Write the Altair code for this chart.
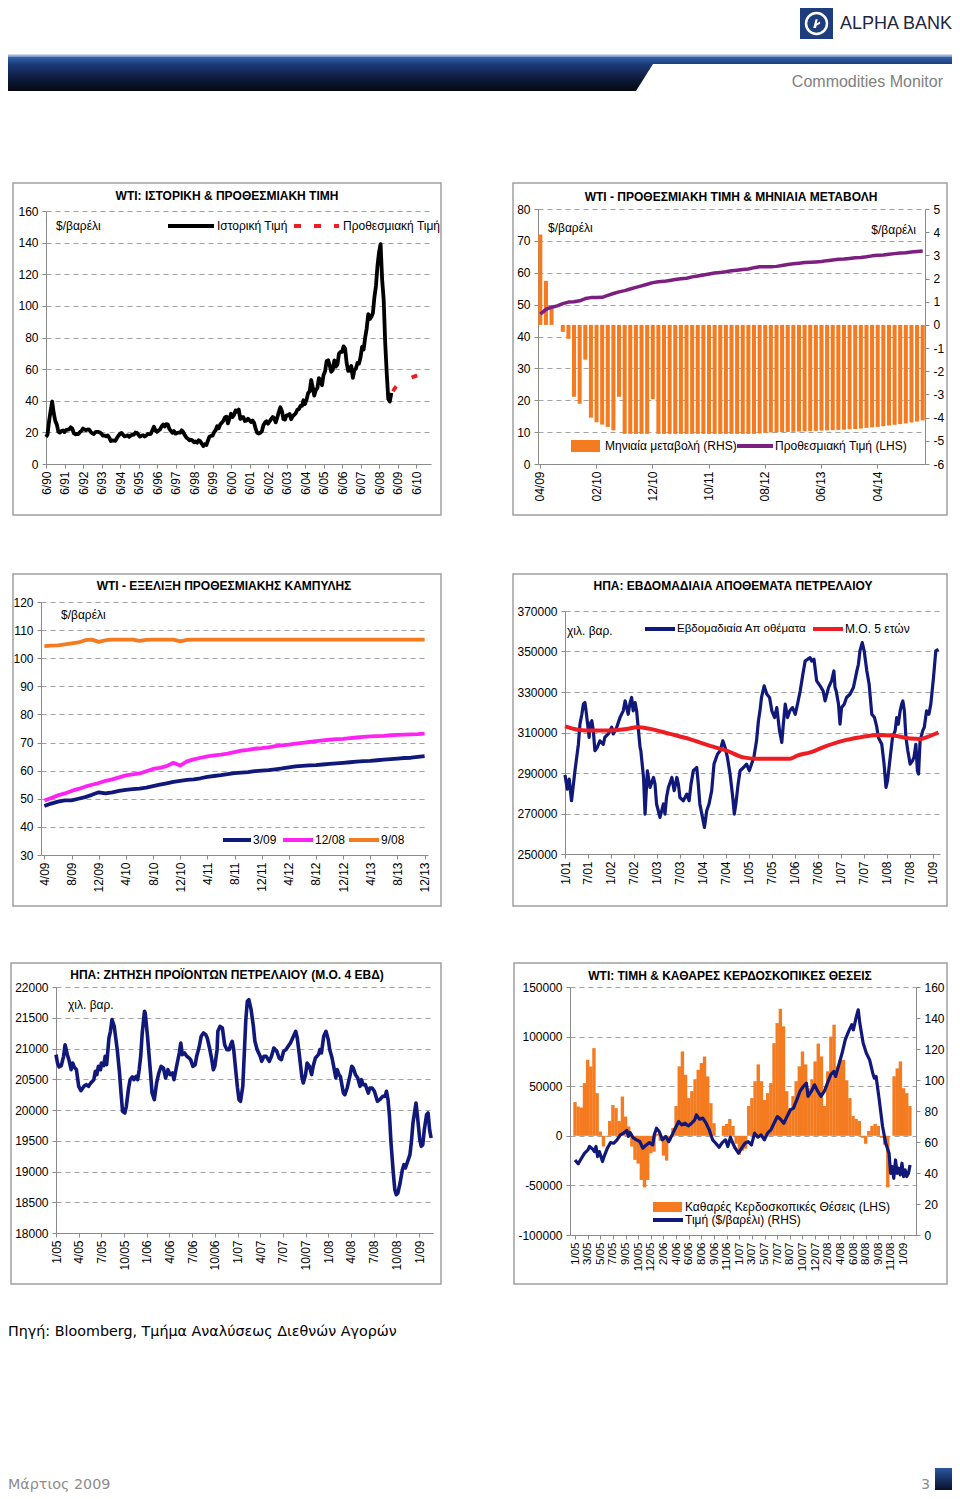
import json
import altair as alt
import pandas as pd

FONT = "Liberation Sans, Arial, sans-serif"
SFONT = "DejaVu Sans, Verdana, sans-serif"

NAVY = "#10187A"
RED = "#EE1D23"
ORANGE = "#F47B20"
PURPLE = "#7B1F80"
MAGENTA = "#FF22F4"
BLACK = "#000000"
BORDER = "#A0A0A0"
GRID = "#A3A3A3"
AXISC = "#8A8A8A"
MINUS = "\u2212"

# ---------------- data: panel 1 (WTI history + forward) ----------------
P1_TICKS = ["6/90", "6/91", "6/92", "6/93", "6/94", "6/95", "6/96", "6/97", "6/98", "6/99",
            "6/00", "6/01", "6/02", "6/03", "6/04", "6/05", "6/06", "6/07", "6/08", "6/09", "6/10"]
# monthly, starting 6/1990
P1_HIST = [
    17.1, 18.6, 27.2, 33.7, 39.5, 32.3, 27.3,
    25.0, 20.5, 19.9, 20.8, 21.2, 20.2, 21.4, 21.7, 21.9, 23.2, 22.5, 19.5,
    18.8, 19.0, 18.9, 20.2, 20.9, 22.4, 21.8, 21.4, 21.9, 21.7, 20.3, 19.4,
    19.0, 20.1, 20.3, 20.3, 19.9, 19.1, 17.9, 18.0, 17.5, 18.1, 16.7, 14.5,
    15.0, 14.8, 14.7, 16.4, 17.9, 19.1, 19.6, 18.4, 17.5, 17.7, 18.1, 17.2,
    18.0, 18.5, 18.6, 19.9, 19.7, 18.4, 17.3, 17.9, 18.2, 17.4, 18.0, 19.0,
    18.9, 19.1, 21.3, 23.5, 21.2, 20.4, 21.3, 21.9, 23.9, 24.9, 23.7, 25.2,
    25.1, 22.2, 20.9, 19.7, 20.8, 19.2, 19.6, 19.9, 19.8, 21.3, 20.2, 18.3,
    16.7, 16.1, 15.0, 15.4, 14.9, 13.7, 14.2, 13.5, 15.0, 14.4, 12.9, 11.3,
    12.5, 12.0, 14.7, 17.3, 17.8, 17.9, 20.1, 21.3, 23.9, 22.6, 25.0, 26.1,
    27.2, 29.4, 29.9, 25.7, 28.8, 31.8, 29.7, 31.2, 33.9, 33.1, 34.4, 28.5,
    29.6, 29.6, 27.2, 27.4, 28.6, 27.6, 26.5, 27.5, 25.9, 22.2, 19.7, 19.3,
    19.7, 20.7, 24.5, 26.2, 27.0, 25.5, 26.9, 28.4, 29.7, 28.9, 26.3, 29.4,
    32.9, 35.9, 33.6, 28.3, 28.1, 30.7, 30.8, 31.6, 28.3, 30.3, 31.1, 32.1,
    34.3, 34.7, 36.7, 36.7, 40.3, 38.0, 40.7, 44.9, 45.9, 53.1, 48.5, 43.3,
    46.8, 48.0, 54.3, 53.0, 49.8, 56.3, 58.7, 65.0, 65.6, 62.4, 58.3, 59.4,
    65.5, 61.6, 62.9, 69.7, 70.9, 70.9, 74.4, 73.0, 63.8, 58.9, 59.1, 62.0,
    54.5, 59.3, 60.4, 63.9, 63.5, 67.5, 74.1, 72.4, 79.9, 85.8, 94.8, 91.7,
    93.0, 95.4, 105.5, 112.6, 125.4, 133.9, 139.0, 116.7, 104.1, 76.6, 57.3, 41.1,
    39.5, 45.0]
P1_FWD_START = 225  # 3/2009
P1_FWD = [46.0, 47.5, 49.0, 50.3, 51.2, 51.8, 52.3, 52.8, 53.2, 53.6, 54.0,
          54.3, 54.6, 55.0, 55.4, 55.7, 56.0, 56.2, 56.4, 56.6, 56.8, 57.0]

# ---------------- data: panel 2 (forward price & monthly change) ----------------
P2_MONTHS = [f"{(3 + i) % 12 + 1:02d}/{((2009 * 12 + 3 + i) // 12) % 100:02d}" for i in range(69)]
P2_CHANGE = [3.9, 1.9, 0.8, 0.0, -0.3, -0.6, -3.1, -3.4, -1.5, -4.0,
             -4.2, -4.3, -4.4, -4.55, -3.1, -4.7, -4.7, -4.7, -4.7, -4.7,
             -3.2, -4.7, -4.7, -4.7, -4.7, -4.7, -4.7, -4.7, -4.7, -4.7,
             -4.7, -4.7, -4.7, -4.7, -4.7, -4.7, -4.7, -4.7, -4.7, -4.68,
             -4.65, -4.64, -4.63, -4.62, -4.62, -4.61, -4.6, -4.59, -4.58, -4.57,
             -4.56, -4.55, -4.54, -4.53, -4.52, -4.5, -4.49, -4.47, -4.44, -4.42,
             -4.4, -4.37, -4.34, -4.31, -4.28, -4.25, -4.21, -4.17, -4.12]
P2_FWD = [47.0, 48.5, 49.2, 49.6, 50.3, 50.8, 50.9, 51.2, 51.9, 52.2,
          52.2, 52.3, 52.9, 53.5, 54.0, 54.4, 54.9, 55.4, 55.9, 56.4,
          56.9, 57.2, 57.3, 57.6, 57.9, 58.1, 58.3, 58.7, 59.0, 59.3,
          59.6, 59.9, 60.1, 60.3, 60.6, 60.8, 61.0, 61.2, 61.6, 61.9,
          61.9, 61.9, 62.0, 62.3, 62.6, 62.8, 63.0, 63.2, 63.3, 63.4,
          63.5, 63.8, 64.0, 64.2, 64.3, 64.5, 64.7, 64.8, 65.0, 65.3,
          65.5, 65.6, 65.8, 66.0, 66.2, 66.3, 66.5, 66.7, 66.8]

# ---------------- data: panel 3 (forward curves) ----------------
P3_MONTHS = [f"{(3 + i) % 12 + 1}/{((2009 * 12 + 3 + i) // 12) % 100:02d}" for i in range(57)]
P3_MAR09 = [47.4, 48.3, 49.0, 49.4, 49.4, 50.0, 50.6, 51.4, 52.3, 51.9,
            52.3, 52.8, 53.2, 53.4, 53.6, 54.0, 54.5, 55.0, 55.5, 56.0,
            56.4, 56.7, 56.9, 57.3, 57.8, 58.1, 58.4, 58.8, 59.1, 59.3,
            59.5, 59.8, 60.0, 60.2, 60.5, 60.8, 61.2, 61.5, 61.7, 61.9,
            62.0, 62.2, 62.4, 62.6, 62.8, 63.0, 63.2, 63.4, 63.5, 63.7,
            63.9, 64.1, 64.3, 64.5, 64.6, 64.9, 65.2]
P3_DEC08 = [49.4, 50.3, 51.2, 51.9, 52.8, 53.5, 54.3, 55.0, 55.6, 56.4,
            56.9, 57.6, 58.3, 58.7, 59.0, 59.8, 60.6, 61.0, 61.6, 62.8,
            61.8, 63.3, 64.0, 64.6, 65.1, 65.4, 65.7, 66.1, 66.6, 67.1,
            67.4, 67.8, 68.0, 68.3, 68.7, 69.0, 69.3, 69.6, 69.9, 70.2,
            70.5, 70.8, 71.0, 71.2, 71.3, 71.6, 71.8, 72.0, 72.2, 72.3,
            72.4, 72.6, 72.7, 72.8, 72.9, 73.0, 73.2]
P3_SEP08 = [104.3, 104.5, 104.6, 104.9, 105.3, 105.6, 106.4, 106.6, 105.8, 106.4,
            106.6, 106.6, 106.6, 106.6, 106.2, 106.5, 106.6, 106.6, 106.6, 106.6,
            106.0, 106.5, 106.6, 106.6, 106.6, 106.6, 106.6, 106.6, 106.6, 106.6,
            106.6, 106.6, 106.6, 106.6, 106.6, 106.6, 106.6, 106.6, 106.6, 106.6,
            106.6, 106.6, 106.6, 106.6, 106.6, 106.6, 106.6, 106.6, 106.6, 106.6,
            106.6, 106.6, 106.6, 106.6, 106.6, 106.6, 106.6]
P3_SERIES = ["3/09", "12/08", "9/08"]

# ---------------- data: panel 4 (US weekly crude stocks) ----------------
P4_TICKS = ["1/01", "7/01", "1/02", "7/02", "1/03", "7/03", "1/04", "7/04", "1/05",
            "7/05", "1/06", "7/06", "1/07", "7/07", "1/08", "7/08", "1/09"]
# (months since 1/2001, thousand barrels)
P4_STOCKS = [(0.0, 289000), (0.6, 282000), (1.1, 287000), (1.7, 276300), (2.2, 284500), (2.6, 291100),
             (3.5, 304200), (3.9, 314100), (4.4, 319000), (4.8, 324000), (5.2, 324800), (5.5, 320700),
             (5.8, 315800), (6.3, 307600), (6.5, 314100), (7.0, 315800), (7.4, 310900), (7.8, 301000),
             (8.4, 302600), (9.1, 305900), (10.0, 304200), (10.4, 307600), (11.3, 309300), (12.2, 312600),
             (12.6, 309300), (13.5, 312600), (14.4, 317600), (15.2, 320700), (15.7, 325600), (16.1, 322300),
             (16.5, 319000), (17.0, 324800), (17.4, 327300), (17.8, 320700), (18.3, 324800), (18.7, 320700),
             (19.1, 312600), (19.6, 302600), (19.8, 301000), (20.5, 287800), (20.9, 269700), (21.5, 291100),
             (22.2, 282900), (23.1, 287800), (23.5, 284500), (23.9, 274700), (24.8, 268100), (25.7, 274700),
             (26.1, 269700), (26.5, 277900), (27.0, 282900), (27.9, 287800), (28.5, 281300), (29.2, 287800),
             (29.6, 284500), (30.0, 277900), (30.9, 276300), (31.8, 279600), (32.4, 276300), (32.9, 284500),
             (33.5, 291100), (34.4, 292700), (34.8, 284500), (35.2, 274700), (35.9, 268100), (36.4, 263100),
             (37.0, 271400), (37.6, 274700), (38.3, 281300), (38.9, 294400), (39.8, 299300), (40.5, 301000),
             (41.2, 305900), (41.8, 302600), (42.4, 297700), (43.1, 289400), (43.8, 277900), (44.2, 269700),
             (44.6, 274700), (45.2, 284500), (45.7, 291100), (46.6, 292700), (47.4, 294400), (48.1, 291100),
             (48.7, 294400), (49.3, 297700), (50.0, 305900), (50.5, 315800), (50.9, 320700), (51.3, 327300),
             (52.0, 333000), (52.7, 328900), (53.4, 327300), (54.0, 320700), (54.7, 317400), (55.3, 322300),
             (56.0, 310900), (56.6, 305100), (57.0, 314100), (57.5, 324000), (58.1, 317400), (58.7, 320700),
             (59.4, 322300), (60.1, 319000), (60.7, 324000), (61.4, 330500), (62.1, 338800), (62.7, 345300),
             (63.4, 346200), (64.0, 347000), (64.4, 345300), (65.0, 346200), (65.7, 335500), (66.6, 333000),
             (67.4, 330500), (67.9, 325600), (68.8, 332200), (69.6, 335500), (70.2, 340400), (70.5, 332200),
             (70.8, 330500), (71.4, 324000), (71.8, 314100), (72.2, 322300), (72.9, 324000), (73.5, 327300),
             (74.4, 328900), (75.3, 332200), (76.2, 340400), (76.6, 343700), (77.0, 350300), (77.6, 354400),
             (78.1, 350300), (78.8, 340400), (79.4, 333800), (80.1, 319000), (80.8, 317400), (81.4, 312600),
             (81.8, 307600), (82.7, 304200), (83.3, 294400), (83.8, 282900), (84.2, 286200), (84.9, 297700),
             (85.5, 307600), (86.2, 310900), (86.6, 317400), (87.0, 314100), (87.5, 320700), (87.9, 324000),
             (88.2, 325600), (88.6, 320700), (89.0, 307600), (89.5, 301000), (90.1, 294400), (90.7, 296000),
             (91.1, 297700), (91.6, 304200), (92.0, 291100), (92.3, 289500), (92.7, 305900), (93.4, 310900),
             (93.8, 312600), (94.4, 320700), (95.0, 319000), (95.5, 324000), (96.2, 337100), (96.8, 350300),
             (97.5, 351100)]
P4_AVG5 = [(0.0, 313000), (3.0, 311500), (5.7, 311000), (11.7, 311000), (16.1, 311700), (18.7, 312600),
           (22.2, 311800), (27.4, 309300), (32.6, 306700), (37.9, 303400), (42.2, 301000), (46.6, 297700),
           (50.0, 297000), (58.7, 297000), (60.5, 298500), (64.0, 300200), (68.3, 303400), (72.7, 306000),
           (77.0, 307600), (81.4, 308800), (85.7, 308500), (90.1, 307000), (92.7, 306800), (95.3, 308300),
           (97.5, 310000)]

# ---------------- data: panel 5 (US product demand, 4wk avg) ----------------
P5_TICKS = ["1/05", "4/05", "7/05", "10/05", "1/06", "4/06", "7/06", "10/06", "1/07",
            "4/07", "7/07", "10/07", "1/08", "4/08", "7/08", "10/08", "1/09"]
# (months since 1/2005, thousand barrels/day)
P5_DEMAND = [(0.0, 20900), (0.2, 20764), (0.4, 20700), (0.7, 20721), (1.0, 20873), (1.2, 21062),
             (1.5, 20900), (1.7, 20818), (2.0, 20656), (2.2, 20764), (2.4, 20700), (2.7, 20656),
             (3.0, 20385), (3.3, 20314), (3.7, 20385), (4.0, 20412), (4.3, 20385), (4.6, 20439),
             (5.0, 20493), (5.2, 20629), (5.4, 20575), (5.6, 20710), (5.9, 20656), (6.0, 20764),
             (6.3, 20721), (6.5, 20873), (6.7, 20737), (7.0, 21171), (7.2, 21279), (7.4, 21469),
             (7.7, 21360), (8.1, 20981), (8.4, 20602), (8.6, 20276), (8.8, 19978), (9.1, 19951),
             (9.3, 20060), (9.6, 20358), (9.8, 20493), (10.1, 20537), (10.3, 20493), (10.6, 20547),
             (10.8, 20493), (11.0, 20656), (11.2, 20873), (11.4, 21252), (11.7, 21604), (11.8, 21577),
             (12.1, 21198), (12.5, 20602), (12.7, 20276), (13.0, 20168), (13.3, 20439), (13.6, 20602),
             (13.9, 20710), (14.2, 20683), (14.5, 20520), (14.8, 20656), (15.1, 20575), (15.4, 20602),
             (15.6, 20493), (15.9, 20683), (16.3, 20927), (16.5, 21089), (16.7, 20900), (17.0, 20927),
             (17.3, 20873), (17.6, 20846), (17.8, 20818), (18.1, 20710), (18.4, 20737), (18.6, 20873),
             (18.9, 21008), (19.2, 21198), (19.5, 21252), (19.8, 21225), (20.0, 21171), (20.3, 21008),
             (20.6, 20818), (20.8, 20656), (21.0, 20710), (21.3, 20981), (21.4, 21279), (21.7, 21360),
             (22.0, 21333), (22.3, 21062), (22.6, 20981), (22.9, 20981), (23.1, 21062), (23.3, 21117),
             (23.5, 20981), (23.8, 20602), (24.0, 20358), (24.2, 20168), (24.4, 20141), (24.7, 20385),
             (24.9, 20927), (25.1, 21469), (25.3, 21767), (25.5, 21794), (25.8, 21631), (26.1, 21360),
             (26.3, 21117), (26.6, 20981), (27.0, 20873), (27.2, 20791), (27.5, 20873), (27.8, 20873),
             (28.2, 20791), (28.5, 20873), (28.8, 21008), (29.2, 20954), (29.5, 20846), (29.8, 20818),
             (30.1, 20954), (30.4, 20981), (30.7, 21035), (31.0, 21089), (31.4, 21198), (31.7, 21279),
             (31.9, 21171), (32.2, 20873), (32.5, 20547), (32.7, 20439), (33.0, 20575), (33.2, 20764),
             (33.5, 20710), (33.8, 20575), (34.0, 20710), (34.3, 20846), (34.7, 20900), (34.9, 20981),
             (35.1, 20927), (35.4, 21198), (35.7, 21279), (36.0, 21144), (36.2, 20981), (36.5, 20846),
             (36.8, 20656), (37.0, 20520), (37.2, 20656), (37.4, 20575), (37.6, 20547), (38.0, 20276),
             (38.2, 20249), (38.5, 20358), (38.9, 20575), (39.1, 20710), (39.3, 20683), (39.6, 20575),
             (39.9, 20520), (40.2, 20385), (40.4, 20493), (40.6, 20412), (40.9, 20412), (41.3, 20276),
             (41.5, 20358), (41.8, 20358), (42.1, 20304), (42.5, 20141), (42.8, 20168), (43.2, 20222),
             (43.5, 20222), (43.7, 20304), (43.9, 20168), (44.1, 19897), (44.3, 19463), (44.6, 18976),
             (44.8, 18705), (45.0, 18623), (45.2, 18650), (45.5, 18813), (45.8, 19030), (46.0, 19111),
             (46.2, 19057), (46.5, 19165), (46.8, 19274), (47.0, 19491), (47.2, 19789), (47.4, 19951),
             (47.6, 20114), (47.8, 19897), (48.1, 19518), (48.3, 19409), (48.5, 19436), (48.7, 19680),
             (49.0, 19924), (49.2, 19951), (49.4, 19680), (49.6, 19545)]

# ---------------- data: panel 6 (WTI price & net speculative positions) ----------------
P6_TICKS = ["1/05", "3/05", "5/05", "7/05", "9/05", "10/05", "12/05", "2/06", "4/06", "6/06",
            "8/06", "9/06", "11/06", "1/07", "3/07", "5/07", "7/07", "8/07", "10/07", "12/07",
            "2/08", "4/08", "6/08", "8/08", "9/08", "11/08", "1/09"]
# net speculative positions, every 2 weeks from 1/2005
P6_NETPOS = [34000, 29500, 28500, 53100, 76600, 69900, 88400, 43000, 4300, -10800,
             -700, 15000, 31000, 27900, 15000, 39600, 19400, 9400, -10800, -24300,
             -28000, -44500, -52000, -44500, -17600, -16000, 2000, -5000, -20000, -25000,
             -5000, 8000, 30000, 70000, 85000, 61500, 38000, 45000, 57000, 66500,
             73300, 79900, 59800, 32900, 12700, 0, 0, 10000, 12000, 17000,
             10000, -8000, -19000, -15000, -13000, 30000, 38000, 55000, 72000, 55000,
             36000, 43000, 53100, 93400, 113600, 128000, 110300, 45000, 28000, 40000,
             55000, 70000, 85000, 72000, 48000, 57000, 75000, 93000, 80000, 30000,
             65000, 100000, 112000, 69900, 76600, 76600, 56000, 38000, 20000, 17000,
             15000, -2000, -8000, 5000, 10000, 12000, 10000, -2000, -9000, -52000,
             0, 60000, 68000, 75000, 48000, 43000, 30000]
# (weeks since 1/2005, $/barrel)
P6_PRICE = [(0.0, 48.4), (2.0, 45.9), (4.1, 49.5), (6.1, 52.8), (8.2, 54.9), (9.2, 57.1), (11.3, 55.3),
            (12.3, 53.8), (13.3, 57.1), (14.3, 50.6), (15.4, 53.8), (16.4, 50.6), (17.4, 47.4), (18.4, 50.6),
            (20.5, 56.0), (22.5, 59.6), (24.6, 59.2), (26.6, 61.4), (28.7, 64.6), (30.7, 65.7), (32.8, 67.4),
            (33.8, 63.6), (34.8, 66.2), (36.9, 62.6), (38.9, 61.4), (41.0, 60.3), (43.0, 56.0), (45.1, 58.1),
            (47.1, 59.6), (49.2, 58.1), (50.2, 64.6), (51.6, 68.9), (53.3, 66.8), (55.3, 61.4), (57.4, 63.6),
            (59.4, 60.3), (61.5, 64.6), (63.5, 68.9), (65.6, 73.2), (67.6, 71.1), (69.7, 72.1), (71.7, 70.4),
            (73.8, 72.1), (75.8, 74.3), (76.8, 77.5), (78.9, 74.7), (80.9, 75.4), (83.0, 72.1), (85.0, 67.8),
            (87.1, 61.4), (89.1, 59.2), (91.2, 56.6), (93.2, 59.6), (95.3, 61.4), (96.7, 57.1), (98.4, 63.1),
            (99.4, 60.3), (101.4, 56.0), (103.5, 52.8), (105.5, 56.0), (107.6, 59.2), (109.6, 60.3),
            (111.7, 58.1), (113.7, 65.7), (115.8, 63.1), (117.8, 64.6), (119.9, 61.4), (121.9, 65.7),
            (124.0, 67.8), (126.0, 72.1), (128.1, 76.4), (130.1, 74.7), (132.2, 72.1), (134.2, 76.4),
            (136.3, 80.7), (138.3, 81.8), (140.4, 87.2), (142.4, 92.6), (144.5, 95.8), (146.5, 98.0),
            (147.5, 89.4), (149.6, 92.6), (151.6, 96.9), (153.7, 92.6), (155.7, 89.4), (157.8, 92.6),
            (159.8, 98.0), (161.9, 103.4), (163.9, 105.5), (165.0, 102.3), (167.0, 109.8), (169.1, 117.4),
            (171.1, 126.0), (173.2, 131.4), (175.2, 135.7), (176.2, 132.4), (177.9, 140.0), (179.3, 145.3),
            (180.3, 136.7), (182.4, 123.8), (184.4, 117.4), (186.5, 113.0), (188.5, 104.4), (189.5, 101.2),
            (190.6, 102.3), (192.6, 87.2), (194.7, 70.0), (196.7, 59.2), (198.8, 52.8), (199.8, 39.8),
            (200.8, 44.1), (201.8, 36.6), (202.9, 48.4), (203.9, 39.8), (204.9, 43.1), (205.9, 38.8),
            (207.0, 46.3), (208.0, 37.7), (209.0, 42.0), (210.0, 37.7), (211.1, 39.8), (212.1, 45.2)]

# ---------------- helpers ----------------
one = pd.DataFrame({"a": [0]})
TXT = 12


def text(s, x, y, size=TXT, align="left", weight="normal", color="black", font=FONT):
    return alt.Chart(one).mark_text(text=s, align=align, baseline="middle", fontSize=size,
                                    fontWeight=weight, color=color, font=font).encode(
        x=alt.value(x), y=alt.value(y))


def title(s, x, y):
    return text(s, x, y, size=12, align="center", weight="bold")


def rule(x1, x2, y, color, width, dash=None):
    kw = dict(color=color, strokeWidth=width, strokeCap="butt")
    if dash is not None:
        kw["strokeDash"] = dash
    return alt.Chart(one).mark_rule(**kw).encode(x=alt.value(x1), x2=alt.value(x2), y=alt.value(y))


def rect(x1, x2, y1, y2, **kw):
    return alt.Chart(one).mark_rect(**kw).encode(
        x=alt.value(x1), x2=alt.value(x2), y=alt.value(y1), y2=alt.value(y2))


def frame(x1, x2, y1, y2):
    return rect(x1, x2, y1, y2, fillOpacity=0, stroke=BORDER, strokeWidth=1.5)


def lexpr(labels, step):
    return json.dumps(labels) + "[round(datum.value/%s)]" % step


def ax_x(values, expr=None, size=12):
    args = dict(values=values, title=None, labelAngle=-90, grid=False, labelFlush=False,
                labelOverlap=False, tickSize=4, labelPadding=3, labelFontSize=size)
    if expr:
        args["labelExpr"] = expr
    return alt.Axis(**args)


def ax_y(values, orient="left", grid=True, fmt=None):
    args = dict(values=values, title=None, grid=grid, orient=orient, tickSize=4, labelPadding=4,
                labelExpr="replace(datum.label, '%s', '-')" % MINUS)
    if fmt:
        args["format"] = fmt
    return alt.Axis(**args)


def spacer(w, h):
    return alt.Chart(one).mark_rect(opacity=0).encode(
        x=alt.value(0), x2=alt.value(w), y=alt.value(0), y2=alt.value(h)).properties(width=w, height=h)


def wrap(panel, top):
    return alt.vconcat(spacer(1, top), panel, spacing=0)


def row(left, pl, mid, pr, top):
    return alt.hconcat(spacer(left, 1), wrap(pl, top), spacer(mid, 1), wrap(pr, top), spacing=0)


# ---------------- panel 1 ----------------
d1h = pd.DataFrame({"k": list(range(len(P1_HIST))), "v": P1_HIST})
d1f = pd.DataFrame({"k": list(range(P1_FWD_START, P1_FWD_START + len(P1_FWD))), "v": P1_FWD})
X1 = alt.X("k:Q", scale=alt.Scale(domain=[0, 249.7], nice=False, zero=False),
           axis=ax_x(list(range(0, 241, 12)), lexpr(P1_TICKS, 12)))
Y1 = alt.Y("v:Q", scale=alt.Scale(domain=[0, 160], nice=False), axis=ax_y(list(range(0, 161, 20))))
p1 = alt.layer(
    frame(-33, 395, -28, 304),
    alt.Chart(d1h).mark_line(color=BLACK, strokeWidth=3.8, strokeJoin="round").encode(x=X1, y=Y1),
    alt.Chart(d1f).mark_line(color=RED, strokeWidth=3.8, strokeDash=[6, 18]).encode(x=X1, y=Y1),
    title("WTI: ΙΣΤΟΡΙΚΗ & ΠΡΟΘΕΣΜΙΑΚΗ ΤΙΜΗ", 181, -15),
    text("$/βαρέλι", 10, 15),
    rule(122, 168, 15, BLACK, 4),
    text("Ιστορική Τιμή", 171, 15),
    rule(248, 293, 15, RED, 4, dash=[7, 13]),
    text("Προθεσμιακή Τιμή", 297, 15),
).properties(width=385, height=253)

# ---------------- panel 2 ----------------
d2 = pd.DataFrame({"m": P2_MONTHS, "chg": P2_CHANGE, "fwd": P2_FWD})
X2 = alt.X("m:O", sort=None, scale=alt.Scale(paddingInner=0.28, paddingOuter=0.05),
           axis=ax_x([P2_MONTHS[i] for i in range(0, 69, 10)]))
p2 = alt.layer(
    frame(-25, 409, -26, 306),
    alt.Chart(d2).mark_bar(color=ORANGE).encode(
        x=X2, y=alt.Y("chg:Q", scale=alt.Scale(domain=[-6, 5], nice=False),
                      axis=ax_y(list(range(-6, 6)), orient="right", grid=False))),
    alt.Chart(d2).mark_line(color=PURPLE, strokeWidth=3.5, strokeJoin="round").encode(
        x=X2, y=alt.Y("fwd:Q", scale=alt.Scale(domain=[0, 80], nice=False),
                      axis=ax_y(list(range(0, 81, 10))))),
    title("WTI - ΠΡΟΘΕΣΜΙΑΚΗ ΤΙΜΗ & ΜΗΝΙΑΙΑ ΜΕΤΑΒΟΛΗ", 193, -12),
    text("$/βαρέλι", 10, 19),
    text("$/βαρέλι", 378, 21, align="right"),
    rect(33, 62, 231, 243, color=ORANGE),
    text("Μηνιαία μεταβολή (RHS)", 67, 237),
    rule(199, 235, 237, PURPLE, 4),
    text("Προθεσμιακή Τιμή (LHS)", 237, 237),
).resolve_scale(y="independent").properties(width=387, height=255)

# ---------------- panel 3 ----------------
rows3 = []
for name, vals in zip(P3_SERIES, [P3_MAR09, P3_DEC08, P3_SEP08]):
    for m, v in zip(P3_MONTHS, vals):
        rows3.append({"m": m, "v": v, "s": name})
d3 = pd.DataFrame(rows3)
X3 = alt.X("m:O", sort=None, scale=alt.Scale(type="point", padding=0.5),
           axis=ax_x([P3_MONTHS[i] for i in range(0, 57, 4)]))
p3 = alt.layer(
    frame(-28, 400, -28, 304),
    alt.Chart(d3).mark_line(strokeWidth=3.8, strokeJoin="round").encode(
        x=X3,
        y=alt.Y("v:Q", scale=alt.Scale(domain=[30, 120], nice=False, zero=False),
                axis=ax_y(list(range(30, 121, 10)))),
        color=alt.Color("s:N", scale=alt.Scale(domain=P3_SERIES, range=[NAVY, MAGENTA, ORANGE]), legend=None)),
    title("WTI - ΕΞΕΛΙΞΗ ΠΡΟΘΕΣΜΙΑΚΗΣ ΚΑΜΠΥΛΗΣ", 183, -16),
    text("$/βαρέλι", 20, 13),
    rule(182, 210, 238, NAVY, 4),
    text("3/09", 212, 238),
    rule(242, 272, 238, MAGENTA, 4),
    text("12/08", 274, 238),
    rule(308, 338, 238, ORANGE, 4),
    text("9/08", 340, 238),
).properties(width=387, height=253)

# ---------------- panel 4 ----------------
d4 = pd.DataFrame(P4_STOCKS, columns=["t", "v"])
d4a = pd.DataFrame(P4_AVG5, columns=["t", "v"])
X4 = alt.X("t:Q", scale=alt.Scale(domain=[0, 97.9], nice=False, zero=False),
           axis=ax_x(list(range(0, 97, 6)), lexpr(P4_TICKS, 6)))
Y4 = alt.Y("v:Q", scale=alt.Scale(domain=[250000, 370000], nice=False, zero=False),
           axis=ax_y(list(range(250000, 370001, 20000)), fmt="d"))
p4 = alt.layer(
    frame(-52, 382, -37, 295),
    alt.Chart(d4).mark_line(color=NAVY, strokeWidth=3.2, strokeJoin="round").encode(x=X4, y=Y4),
    alt.Chart(d4a).mark_line(color=RED, strokeWidth=4, interpolate="monotone").encode(x=X4, y=Y4),
    title("ΗΠΑ: ΕΒΔΟΜΑΔΙΑΙΑ  ΑΠΟΘΕΜΑΤΑ ΠΕΤΡΕΛΑΙΟΥ", 168, -25),
    text("χιλ. βαρ.", 2, 20),
    rule(80, 110, 18, NAVY, 4),
    text("Εβδομαδιαία Απ οθέματα", 112, 18, size=11.5),
    rule(248, 278, 18, RED, 4),
    text("Μ.Ο. 5 ετών", 280, 18),
).properties(width=375, height=243)

# ---------------- panel 5 ----------------
d5 = pd.DataFrame(P5_DEMAND, columns=["t", "v"])
p5 = alt.layer(
    frame(-45, 385, -24, 297),
    alt.Chart(d5).mark_line(color=NAVY, strokeWidth=3.6, strokeJoin="round").encode(
        x=alt.X("t:Q", scale=alt.Scale(domain=[0, 49.85], nice=False, zero=False),
                axis=ax_x(list(range(0, 49, 3)), lexpr(P5_TICKS, 3))),
        y=alt.Y("v:Q", scale=alt.Scale(domain=[18000, 22000], nice=False, zero=False),
                axis=ax_y(list(range(18000, 22001, 500)), fmt="d"))),
    title("ΗΠΑ: ΖΗΤΗΣΗ ΠΡΟΪΟΝΤΩΝ ΠΕΤΡΕΛΑΙΟΥ (Μ.Ο. 4 ΕΒΔ)", 171, -12),
    text("χιλ. βαρ.", 12, 18),
).properties(width=377, height=246)

# ---------------- panel 6 ----------------
d6b = pd.DataFrame({"w": [2 * j for j in range(len(P6_NETPOS))], "v": P6_NETPOS})
d6p = pd.DataFrame(P6_PRICE, columns=["w", "p"])
X6 = alt.X("w:Q", scale=alt.Scale(domain=[0, 212.7], nice=False, zero=False),
           axis=ax_x(list(range(0, 209, 8)), lexpr(P6_TICKS, 8), size=11.5))
p6 = alt.layer(
    frame(-56, 377, -24, 297),
    alt.Chart(d6b).mark_bar(color=ORANGE, size=3.4).encode(
        x=X6, y=alt.Y("v:Q", scale=alt.Scale(domain=[-100000, 150000], nice=False),
                      axis=ax_y(list(range(-100000, 150001, 50000)), fmt="d"))),
    alt.Chart(d6p).mark_line(color=NAVY, strokeWidth=3.2, strokeJoin="round").encode(
        x=X6, y=alt.Y("p:Q", scale=alt.Scale(domain=[0, 160], nice=False),
                      axis=ax_y(list(range(0, 161, 20)), orient="right", grid=False))),
    title("WTI: ΤΙΜΗ & ΚΑΘΑΡΕΣ ΚΕΡΔΟΣΚΟΠΙΚΕΣ ΘΕΣΕΙΣ", 160, -11),
    rect(83, 112, 215, 225, color=ORANGE),
    text("Καθαρές Κερδοσκοπικές Θέσεις (LHS)", 115, 220),
    rule(83, 113, 233, NAVY, 4),
    text("Τιμή ($/βαρέλι) (RHS)", 115, 233),
).resolve_scale(y="independent").properties(width=346, height=248)

# ---------------- header & footer ----------------
band_top = alt.LinearGradient(gradient="linear", x1=0, x2=0, y1=0, y2=1,
                              stops=[alt.GradientStop(color="#3564AE", offset=0),
                                     alt.GradientStop(color="#1B3C7C", offset=1)])
band_low = alt.LinearGradient(gradient="linear", x1=0, x2=0, y1=0, y2=1,
                              stops=[alt.GradientStop(color="#1C3B78", offset=0),
                                     alt.GradientStop(color="#0D1A3C", offset=0.55),
                                     alt.GradientStop(color="#050912", offset=1)])
trap = pd.DataFrame({"x": [0, 628, 645], "y": [56, 56, 56], "y2": [83, 83, 56]})
LOGO_PATH = "M-0.55,0.75 L-0.15,-0.7 L0.2,-0.7 L0.02,0.0 L0.6,-0.35 L0.6,0.05 L0.05,0.35 L-0.12,0.75 Z"

header = alt.layer(
    rect(0, 944, 46.5, 48.5, color="#9DB4DA"),
    rect(0, 944, 48.5, 56, color=band_top),
    alt.Chart(trap).mark_area(color=band_low).encode(
        x=alt.X("x:Q", scale=None), y=alt.Y("y:Q", scale=None, stack=None), y2="y2:Q"),
    rect(792, 825, 0, 31, color="#1D3D7C"),
    alt.Chart(one).mark_point(shape="circle", size=440, stroke="white", strokeWidth=2.5,
                              filled=False, opacity=1).encode(x=alt.value(808.5), y=alt.value(15.5)),
    alt.Chart(one).mark_point(shape=LOGO_PATH, size=140, fill="white", filled=True, opacity=1,
                              strokeWidth=0).encode(x=alt.value(808.5), y=alt.value(15.5)),
    text("ALPHA BANK", 944, 16, size=18, color="#1E2640", align="right"),
    text("Commodities Monitor", 935, 74, size=16, align="right", color="#808080"),
).properties(width=944, height=173)

box_grad = alt.LinearGradient(gradient="linear", x1=0, x2=0, y1=0, y2=1,
                              stops=[alt.GradientStop(color="#2B55A0", offset=0),
                                     alt.GradientStop(color="#08102A", offset=1)])
footer = alt.layer(
    text("Πηγή: Bloomberg, Τμήμα Αναλύσεως Διεθνών Αγορών", 0, 47, size=14.3, font=SFONT),
    text("Μάρτιος 2009", 0, 200, size=14.3, color="#8C8C8C", font=SFONT),
    text("3", 922, 200, size=14.3, align="right", color="#8C8C8C", font=SFONT),
    rect(927, 944, 183, 205, color=box_grad),
).properties(width=944, height=205)

row1 = row(4, p1, 70, p2, 1)
row2 = row(4, p3, 70, p4, 57)
row3 = row(2, p5, 71, p6, 55)

chart = alt.vconcat(header, row1, row2, row3, footer, spacing=0).properties(
    padding={"left": 0, "top": 0, "right": 0, "bottom": 0}
).configure_view(strokeWidth=0).configure_axis(
    labelFont=FONT, labelFontSize=12, labelColor="black", domainColor=AXISC, tickColor=AXISC,
    gridColor=GRID, gridDash=[5, 4], gridWidth=1, domainWidth=1, tickWidth=1
)

chart.save("out.html", embed_options={"renderer": "svg", "actions": False})
